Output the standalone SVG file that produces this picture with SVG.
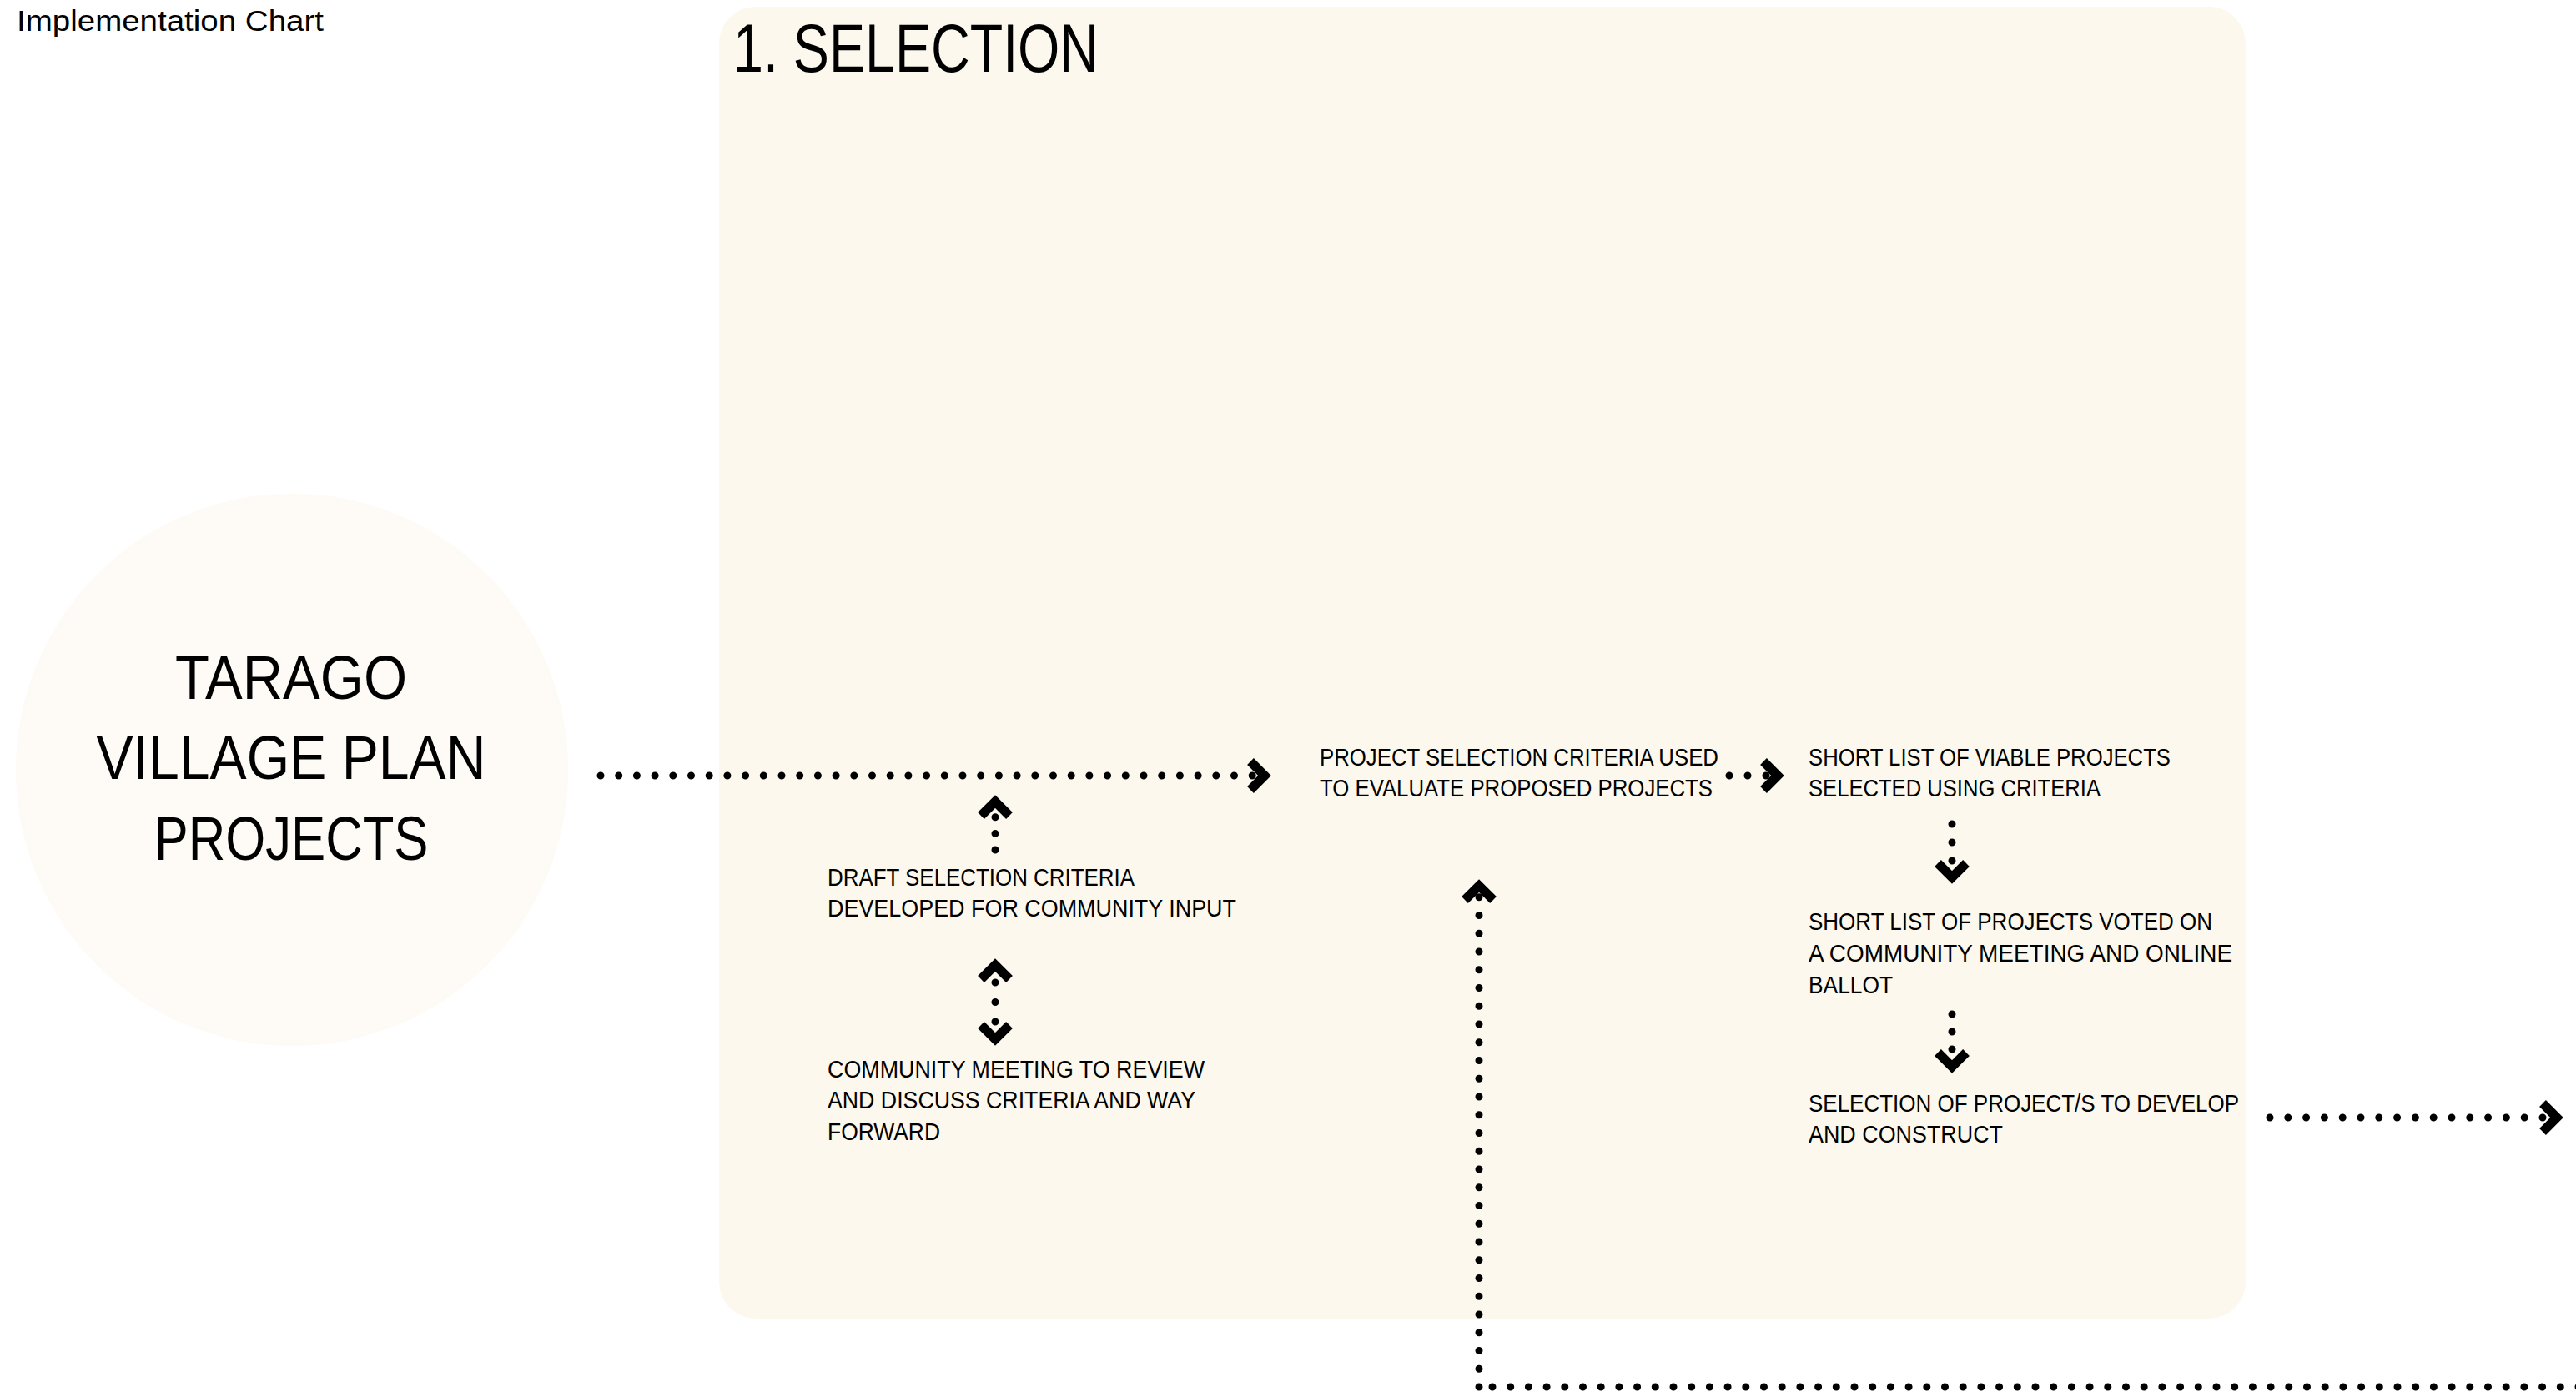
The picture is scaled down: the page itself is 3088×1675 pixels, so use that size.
<svg xmlns="http://www.w3.org/2000/svg" xmlns:xlink="http://www.w3.org/1999/xlink" width="3088" height="1675" viewBox="0 0 3088 1675">
<style>
text{font-family:"Liberation Sans",Arial,sans-serif;fill:#000;}
.lbl{font-size:29px;}
.dots{fill:none;stroke:#000;stroke-width:9;stroke-linecap:round;}
</style>
<defs>
<path id="chev" d="M-17,-17 L0,0 L-17,17" fill="none" stroke="#000" stroke-width="11" stroke-linejoin="miter" stroke-miterlimit="10"/>
</defs>
<rect width="3088" height="1675" fill="#fff"/>
<text x="20" y="37" font-size="35" textLength="368" lengthAdjust="spacingAndGlyphs">Implementation Chart</text>

<g id="panel-selection">
<rect x="862" y="8" width="1830" height="1573" rx="44" ry="44" fill="#FDF8ED"/>
<text x="879" y="86" font-size="82" textLength="438" lengthAdjust="spacingAndGlyphs">1. SELECTION</text>
</g>

<g id="node-tarago">
<circle cx="350" cy="923" r="331" fill="#FEFAF5"/>
<text x="349" y="838" font-size="74" text-anchor="middle" textLength="278" lengthAdjust="spacingAndGlyphs">TARAGO</text>
<text x="349" y="934" font-size="74" text-anchor="middle" textLength="467" lengthAdjust="spacingAndGlyphs">VILLAGE PLAN</text>
<text x="349" y="1031" font-size="74" text-anchor="middle" textLength="329" lengthAdjust="spacingAndGlyphs">PROJECTS</text>
</g>

<g id="node-criteria-used" class="lbl">
<text x="1582" y="918" textLength="478" lengthAdjust="spacingAndGlyphs">PROJECT SELECTION CRITERIA USED</text>
<text x="1582" y="955" textLength="471" lengthAdjust="spacingAndGlyphs">TO EVALUATE PROPOSED PROJECTS</text>
</g>

<g id="node-short-list" class="lbl">
<text x="2168" y="918" textLength="434" lengthAdjust="spacingAndGlyphs">SHORT LIST OF VIABLE PROJECTS</text>
<text x="2168" y="955" textLength="350" lengthAdjust="spacingAndGlyphs">SELECTED USING CRITERIA</text>
</g>

<g id="node-draft-criteria" class="lbl">
<text x="992" y="1062" textLength="368" lengthAdjust="spacingAndGlyphs">DRAFT SELECTION CRITERIA</text>
<text x="992" y="1099" textLength="490" lengthAdjust="spacingAndGlyphs">DEVELOPED FOR COMMUNITY INPUT</text>
</g>

<g id="node-community-meeting" class="lbl">
<text x="992" y="1292" textLength="452" lengthAdjust="spacingAndGlyphs">COMMUNITY MEETING TO REVIEW</text>
<text x="992" y="1329" textLength="441" lengthAdjust="spacingAndGlyphs">AND DISCUSS CRITERIA AND WAY</text>
<text x="992" y="1367" textLength="135" lengthAdjust="spacingAndGlyphs">FORWARD</text>
</g>

<g id="node-voted" class="lbl">
<text x="2168" y="1115" textLength="484" lengthAdjust="spacingAndGlyphs">SHORT LIST OF PROJECTS VOTED ON</text>
<text x="2168" y="1153" textLength="508" lengthAdjust="spacingAndGlyphs">A COMMUNITY MEETING AND ONLINE</text>
<text x="2168" y="1191" textLength="101" lengthAdjust="spacingAndGlyphs">BALLOT</text>
</g>

<g id="node-selection-project" class="lbl">
<text x="2168" y="1333" textLength="516" lengthAdjust="spacingAndGlyphs">SELECTION OF PROJECT/S TO DEVELOP</text>
<text x="2168" y="1370" textLength="233" lengthAdjust="spacingAndGlyphs">AND CONSTRUCT</text>
</g>

<g id="connectors">
<!-- Tarago to criteria used -->
<line class="dots" x1="720" y1="930" x2="1501.5" y2="930" stroke-dasharray="0 21.7"/>
<use xlink:href="#chev" transform="translate(1516,930)"/>
<!-- draft criteria up to main line -->
<line class="dots" x1="1193" y1="1019" x2="1193" y2="979.5" stroke-dasharray="0 19.6"/>
<use xlink:href="#chev" transform="translate(1193,961) rotate(-90)"/>
<!-- double arrow draft / community -->
<line class="dots" x1="1193" y1="1178" x2="1193" y2="1225.5" stroke-dasharray="0 23.5"/>
<use xlink:href="#chev" transform="translate(1193,1157) rotate(-90)"/>
<use xlink:href="#chev" transform="translate(1193,1246) rotate(90)"/>
<!-- criteria used to short list -->
<line class="dots" x1="2073" y1="930" x2="2117.5" y2="930" stroke-dasharray="0 22"/>
<use xlink:href="#chev" transform="translate(2131,930)"/>
<!-- short list to voted -->
<line class="dots" x1="2340" y1="988" x2="2340" y2="1032.5" stroke-dasharray="0 22"/>
<use xlink:href="#chev" transform="translate(2340,1052) rotate(90)"/>
<!-- voted to selection -->
<line class="dots" x1="2340" y1="1216" x2="2340" y2="1258.5" stroke-dasharray="0 21"/>
<use xlink:href="#chev" transform="translate(2340,1279) rotate(90)"/>
<!-- selection outwards -->
<line class="dots" x1="2721" y1="1340" x2="3048.5" y2="1340" stroke-dasharray="0 21.8"/>
<use xlink:href="#chev" transform="translate(3065,1340)"/>
<!-- return loop from bottom -->
<line class="dots" x1="1773" y1="1663" x2="1773" y2="1075.5" stroke-dasharray="0 21.75"/>
<use xlink:href="#chev" transform="translate(1773,1062) rotate(-90)"/>
<line class="dots" x1="1789" y1="1663" x2="3092" y2="1663" stroke-dasharray="0 21.7"/>
</g>
</svg>
